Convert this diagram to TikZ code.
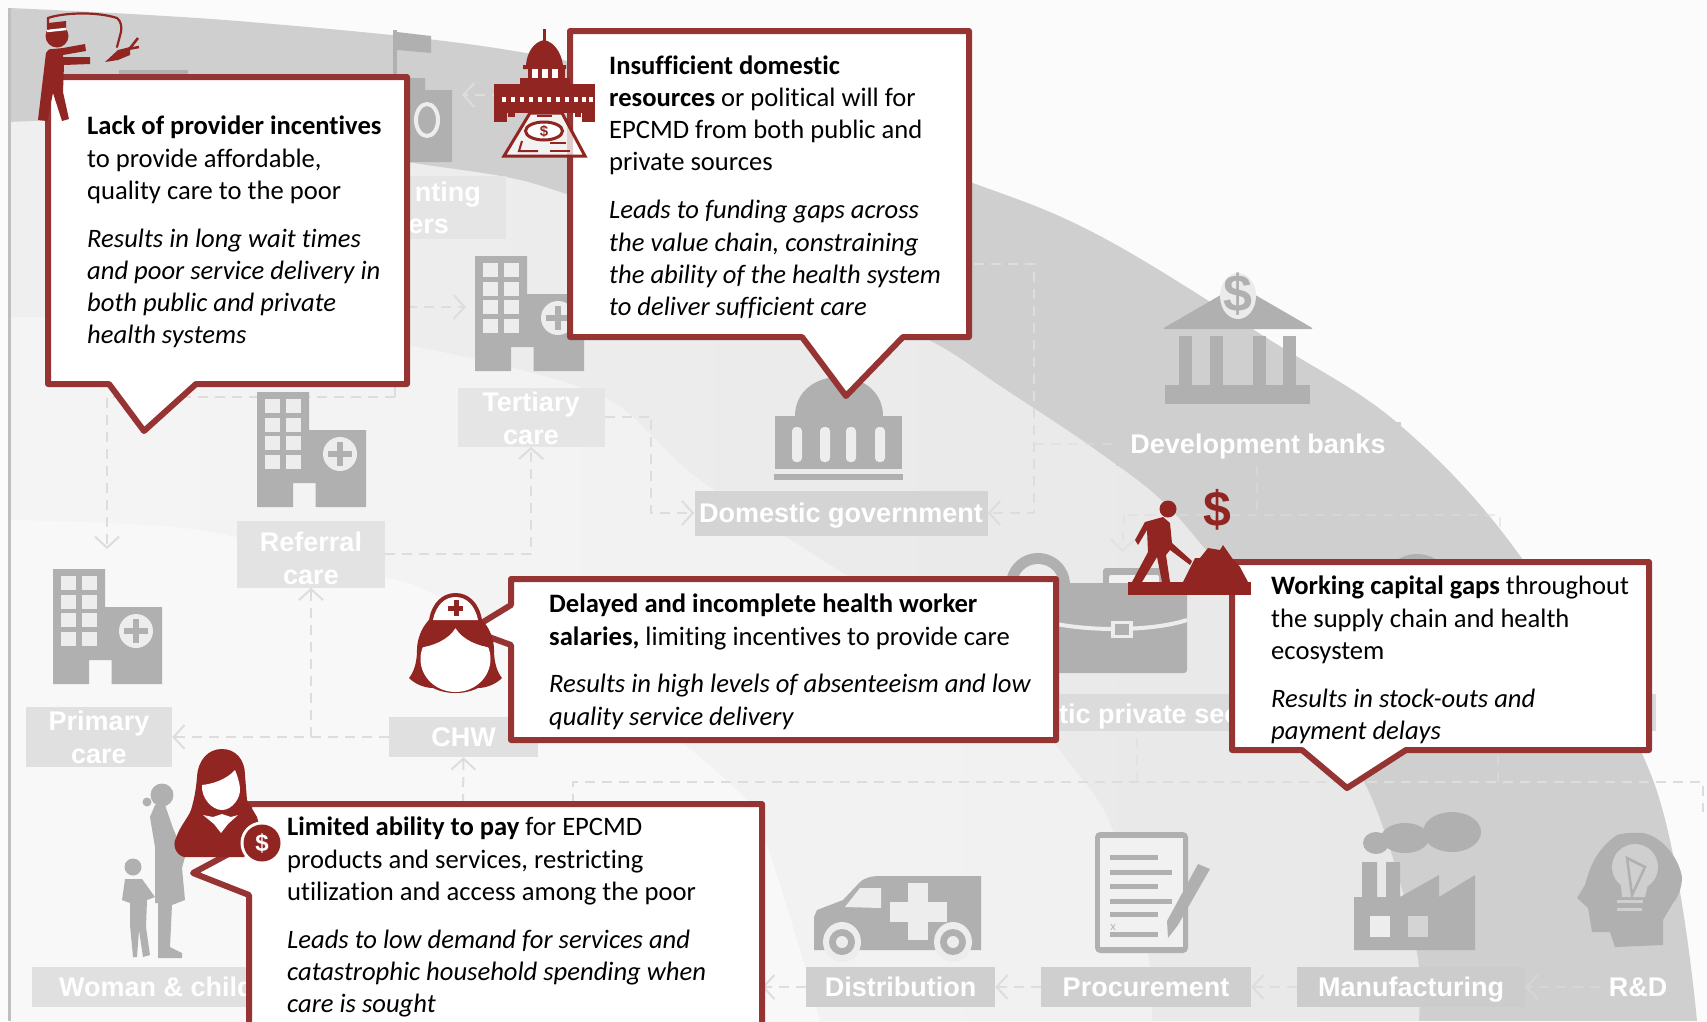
\documentclass[tikz,border=0pt]{standalone}
\usepackage{fontspec}
\setmainfont{Carlito}[Ligatures=NoCommon]
\newfontfamily\lblfont{Liberation Sans}
\usetikzlibrary{arrows.meta}
\definecolor{ringA}{HTML}{CFCFCF}
\definecolor{ringB}{HTML}{E8E8E8}
\definecolor{ringBl}{HTML}{EFEFEF}
\definecolor{ringC}{HTML}{F1F1F1}
\definecolor{ringCl}{HTML}{F4F4F4}
\definecolor{ringD}{HTML}{F8F8F8}
\definecolor{pagebg}{HTML}{FBFBFB}
\definecolor{icongray}{HTML}{B0B0B0}
\definecolor{iconlight}{HTML}{EDEDED}
\definecolor{linkgray}{HTML}{DDDDDD}
\definecolor{callred}{HTML}{963434}
\definecolor{iconred}{HTML}{912522}
\tikzset{
  lbl/.style={fill=#1,text=white,font=\lblfont\bfseries\fontsize{27}{33}\selectfont,align=center,inner sep=0pt},
  oneline/.style={text height=22pt,text depth=3pt},
  link/.style={draw=linkgray,line width=2pt,dash pattern=on 10pt off 7pt},
  faintlink/.style={link,draw opacity=0.55},
  linktip/.style={link,-{Straight Barb[length=11pt,width=24pt,line width=2pt]}},
  callout/.style={draw=callred,fill=white,line width=6pt,line join=round},
  calltext/.style={anchor=north west,inner sep=0pt,align=left,text=black,font=\fontsize{26.6}{32.2}\selectfont},
  hospital/.pic={
    \fill[icongray] (0,0) -- (52,0) -- (52,38) -- (109,38) -- (109,115) -- (58.5,115) -- (58.5,91) -- (36,91) -- (36,115) -- (0,115) -- cycle;
    \foreach \wy in {7,26,44,63}{
      \fill[iconlight] (8,\wy) rectangle (23,\wy+14);
      \fill[iconlight] (29,\wy) rectangle (44,\wy+14);
    }
    \fill[iconlight] (83,62) circle (17);
    \fill[icongray] (80,50) rectangle (86,74);
    \fill[icongray] (71,59) rectangle (95,65);
  }
}
\begin{document}
\begin{tikzpicture}[x=1pt,y=-1pt]
\useasboundingbox (0,0) rectangle (1707,1021);
\clip (0,0) rectangle (1707,1021);
% background bands
\fill[pagebg] (0,0) rectangle (1707,1021);
\fill[ringA] plot[smooth,tension=0.6] coordinates {(9,8) (250,22) (526,53) (760,112) (970,182) (1100,236) (1270,340) (1401,426) (1523,560) (1653,780) (1697,1021)} -- (1697,1021) -- (9,1021) -- cycle;
\shade[left color=ringBl,middle color=ringB,right color=ringB] plot[smooth,tension=0.5] coordinates {(9,122) (100,122) (300,142) (407,162) (506,177) (569,195) (760,262) (927,339) (1000,386) (1100,453) (1176,515) (1290,660) (1368,790) (1405,900) (1419,967) (1419,1021)} -- (9,1021) -- cycle;
\shade[left color=ringCl,middle color=ringC,right color=ringC] plot[smooth,tension=0.5] coordinates {(9,317) (200,320) (407,345) (600,395) (700,480) (900,610) (1000,680) (1067,760) (1110,823) (1147,947) (1152,1021)} -- (9,1021) -- cycle;
\fill[ringD] plot[smooth,tension=0.5] coordinates {(9,520) (200,530) (385,577) (431,593) (600,680) (740,793) (765,840) (800,950) (820,1021)} -- (9,1021) -- cycle;
\fill[pagebg] (0,0) rectangle (9,1021);
\draw[draw=black!25,line width=3pt] (9,8) -- (9,1021);

% label boxes
\node[lbl=black!12,minimum width=146pt,minimum height=60pt] (primary) at (99,737) {Primary\\care};
\node[lbl=black!11,minimum width=148pt,minimum height=67pt] (referral) at (311,554) {};
\node[lbl=black!0,fill=none] (referralt) at (311,558) {Referral\\care};
\node[lbl=black!10,minimum width=147pt,minimum height=59pt] (tertiary) at (531,417) {};
\node[lbl=black!0,fill=none] (tertiaryt) at (531,418) {Tertiary\\care};
\node[lbl=black!10,minimum width=220pt,minimum height=63pt] (implement) at (396,207) {};
\node[lbl=black!0,fill=none,oneline,anchor=east] (implementa) at (481,192) {nting};
\node[lbl=black!0,fill=none,oneline,anchor=east] (implementb) at (449,224) {ers};
\node[lbl=black!17,oneline,minimum width=293pt,minimum height=45pt] (domgov) at (841,513) {Domestic government};
\node[lbl=ringA,oneline,minimum width=285pt,minimum height=44pt] (devbank) at (1258,444) {Development banks};
\node[lbl=black!14,minimum width=636pt,minimum height=37pt] (prvbox) at (1338,712) {};
\node[lbl=black!0,fill=none,oneline,anchor=west] (private) at (969,714) {Domestic private sector};
\node[lbl=black!12,oneline,minimum width=149pt,minimum height=40pt] (chw) at (463.5,737) {CHW};
\node[lbl=black!12,minimum width=300pt,minimum height=40pt] (woman) at (182,987) {};
\node[lbl=black!0,fill=none,oneline,anchor=west] (womant) at (59,987) {Woman \& child};
\node[lbl=black!19,oneline,minimum width=189pt,minimum height=40pt] (distrib) at (900.5,987) {Distribution};
\node[lbl=black!19,oneline,minimum width=210pt,minimum height=40pt] (procure) at (1146,987) {Procurement};
\node[lbl=black!20,oneline,minimum width=228pt,minimum height=40pt] (manuf) at (1411,987) {Manufacturing};
\node[lbl=ringA,oneline,minimum width=76pt,minimum height=40pt] (rnd) at (1638,987) {R\&D};

% free ends of connectors
\coordinate (jprim) at (311,737);
\coordinate (jtop) at (395,397);
\coordinate (jtopl) at (107,397);
\coordinate (primtop) at (107,549);
\coordinate (tertarrow) at (466,307);
\coordinate (tertfrom) at (407,307);
\coordinate (impto) at (462,95);
\coordinate (impfrom) at (570,95);
\coordinate (tertr) at (651,416);
\coordinate (rightv) at (1034,513);
\coordinate (righttop) at (974,264);
\coordinate (womanend) at (463,804);
\coordinate (jrA) at (1124,515);
\coordinate (jrB) at (1500,515);
\coordinate (jrC) at (1500,527);
\coordinate (caseTop) at (1122,552);
\coordinate (jbank) at (1257,515);
\coordinate (botl) at (573,782);
\coordinate (botlb) at (573,804);
\coordinate (botr) at (1703,782);
\coordinate (botrb) at (1703,812);
\coordinate (upA) at (1137,782);
\coordinate (upB) at (1498,782);
\coordinate (wleft) at (762,987);

% connectors
\draw[linktip] (chw.west) -- (primary.east);
\draw[linktip] (jprim) -- (referral.south);
\draw[linktip] (referral.east) -| (tertiary.south);
\draw[linktip] (womanend) -- (chw.south);
\draw[linktip] (jtop) -- (jtopl) -- (primtop);
\draw[link] (jtop) -- (395,384);
\draw[linktip] (tertfrom) -- (tertarrow);
\draw[linktip] (impfrom) -- (impto);
\draw[linktip] (tertiary.east) -| (tertr) |- (domgov.west);
\draw[linktip] (righttop) -| (rightv) -- (domgov.east);
\draw[faintlink] (rightv |- devbank) -- (devbank.west);
\draw[faintlink] (devbank.south -| jbank) -- (jbank);
\draw[faintlink] (jrC) -- (jrB) -- (jrA);
\draw[linktip,draw opacity=0.55] (jrA) -- (caseTop);
\draw[link] (botlb) -- (botl) -- (botr) -- (botrb);
\draw[faintlink] (upA) -- (prvbox.south -| upA);
\draw[faintlink] (upB) -- (prvbox.south -| upB);
\draw[linktip] (distrib.west) -- (wleft);
\draw[linktip] (procure.west) -- (distrib.east);
\draw[linktip] (manuf.west) -- (procure.east);
\draw[linktip,draw opacity=0.55] (rnd.west) -- (manuf.east);

% gray icons
\pic (hospA) at (53,569) {hospital};
\pic (hospB) at (257,392) {hospital};
\pic (hospC) at (475,256) {hospital};
% strip behind first callout
\fill[icongray] (119,70) rectangle (188,80);
% flag + building
\fill[icongray] (393,30) rectangle (397,80);
\fill[icongray] (397,32) -- (431,36) -- (431,53) -- (397,50) -- cycle;
\fill[icongray] (407,78) -- (425,78) -- (425,90) -- (452,90) -- (452,162) -- (407,162) -- cycle;
\draw[draw=iconlight,line width=4pt] (427,120) ellipse (11 and 16);
% government
\fill[icongray] (795,416) .. controls (795,392) and (815,377) .. (839,377) .. controls (863,377) and (883,392) .. (883,416) -- cycle;
\fill[icongray] (775,416) rectangle (902,469);
\fill[icongray] (774,474) rectangle (903,480);
\foreach \px in {792,820,846,875}{
  \fill[iconlight,rounded corners=4pt] (\px,427) rectangle (\px+10,462);
}
% bank
\fill[icongray,rounded corners=3pt] (1162,329) -- (1238,285) -- (1314,329) -- cycle;
\foreach \px in {1179,1210,1253,1283}{
  \fill[icongray] (\px,336) rectangle (\px+13,385);
}
\fill[icongray] (1165,385) rectangle (1310,404);
\fill[black!8] (1238,296) ellipse (18 and 23);
\node[font=\lblfont\bfseries\fontsize{52}{52}\selectfont,text=icongray,inner sep=0pt] (bankdollar) at (1238,294) {\$};
% briefcase humps and body
\fill[icongray] (1038,585) circle (32);
\fill[iconlight] (1038,585) circle (21);
\fill[icongray] (1417,590) circle (36);
\fill[icongray,rounded corners=3pt] (1103,568) rectangle (1165,610);
\fill[ringC,rounded corners=2pt] (1109,575) rectangle (1159,610);
\fill[icongray,rounded corners=3pt] (1030,583) rectangle (1187,673);
\draw[draw=iconlight,line width=4pt] (1040,620) .. controls (1080,632) and (1150,632) .. (1187,620);
\fill[iconlight] (1111,621) rectangle (1133,638);
\fill[icongray] (1115,624) rectangle (1129,635);
% mother and child
\fill[icongray] (162,795) circle (11.5);
\fill[icongray] (147,802) circle (4.5);
\fill[icongray] (155,805) -- (165,805) -- (173,828) -- (185,857) -- (182,868) -- (185,900) -- (172,905) -- (170,947) -- (182,953) -- (182,958) -- (158,958) -- (158,903) -- (155,903) -- (155,847) -- (150,817) -- cycle;
\fill[icongray] (133,867) circle (8.5);
\fill[icongray] (125,879) -- (142,879) -- (155,897) -- (147,900) -- (146,927) -- (150,955) -- (143,957) -- (139,930) -- (137,957) -- (133,957) -- (130,925) -- (130,903) -- (122,900) -- cycle;
% ambulance
\fill[icongray] (814,950) -- (814,917) -- (817,910) -- (843,900) -- (860,882) .. controls (866,877) and (872,876) .. (882,876) -- (981,876) -- (981,950) -- cycle;
\fill[iconlight] (845,907) -- (860,888) -- (881,888) -- (881,908) -- cycle;
\fill[iconlight] (908,883) rectangle (928,940);
\fill[iconlight] (890,902) rectangle (947,922);
\foreach \wx in {842,953}{
  \fill[iconlight] (\wx,942) ellipse (19 and 20);
  \fill[icongray] (\wx,942) ellipse (13 and 13);
  \fill[iconlight] (\wx,942) ellipse (6 and 6);
}
% procurement sheet
\fill[icongray,rounded corners=5pt] (1095,832) rectangle (1188,953);
\fill[ringC] (1100,838) rectangle (1183,947);
\foreach \ly/\lx in {857/1158,872/1172,886/1158,901/1172,914/1158,934/1158}{
  \fill[icongray] (1110,\ly-2.5) rectangle (\lx,\ly+2.5);
}
\node[font=\lblfont\fontsize{11}{11}\selectfont,text=icongray,inner sep=0pt] (xmark) at (1113,928) {x};
\fill[icongray] (1198,864) -- (1210,869) -- (1178,925) -- (1168,938) -- (1167,921) -- cycle;
% factory
\fill[icongray] (1354,950) -- (1354,897) -- (1362,897) -- (1362,862) -- (1377,862) -- (1377,897) -- (1386,897) -- (1386,862) -- (1400,862) -- (1400,897) -- (1439,875) -- (1439,897) -- (1475,875) -- (1475,950) -- cycle;
\fill[iconlight] (1370,916) rectangle (1390,937);
\fill[black!17] (1408,916) rectangle (1428,937);
\fill[icongray] (1376,843) ellipse (13 and 11);
\fill[icongray] (1405,838) ellipse (24 and 15);
\fill[icongray] (1452,832) ellipse (29 and 20);
% head with bulb
\fill[icongray] (1577,898) -- (1585,885) .. controls (1590,865) and (1598,848) .. (1617,835) .. controls (1628,832) and (1635,833) .. (1643,833) .. controls (1660,836) and (1678,855) .. (1682,877) .. controls (1682,890) and (1676,900) .. (1673,903) -- (1663,920) -- (1663,945) -- (1615,947) -- (1610,932) -- (1592,932) -- (1588,908) -- cycle;
\fill[ringA] (1635,867) circle (23);
\fill[ringA] (1620,875) -- (1650,875) -- (1645,897) -- (1622,897) -- cycle;
\draw[draw=icongray,line width=2.5pt] (1627,858) -- (1632,895) -- (1645,867) -- cycle;
\draw[draw=ringA,line width=3pt] (1617,901) -- (1643,901);
\draw[draw=ringA,line width=3pt] (1617,909) -- (1642,909);

% callouts
\draw[callout] (48,77) -- (407,77) -- (407,384) -- (196,384) -- (144,431) -- (109,384) -- (48,384) -- cycle;
\draw[callout] (570,31) -- (969,31) -- (969,337) -- (903,337) -- (846,396) -- (802,337) -- (570,337) -- cycle;
\draw[callout] (511,579) -- (1056,579) -- (1056,740) -- (511,740) -- (511,645) -- (470,630) -- (511,605) -- cycle;
\draw[callout] (1232,562) -- (1649,562) -- (1649,750) -- (1406,750) -- (1347,788) -- (1302,750) -- (1232,750) -- cycle;
\draw[callout] (249,804) -- (762,804) -- (762,1040) -- (249,1040) -- (249,895) -- (193,873) -- (249,843) -- cycle;

% callout texts
\node[calltext] (textA) at (87,116) {\textbf{Lack of provider incentives}\\to provide affordable,\\quality care to the poor\\[15.7pt]\textit{Results in long wait times}\\\textit{and poor service delivery in}\\\textit{both public and private}\\\textit{health systems}};
\node[calltext] (textB) at (609,55.5) {\textbf{Insufficient domestic}\\\textbf{resources} or political will for\\EPCMD from both public and\\private sources\\[15.7pt]\textit{Leads to funding gaps across}\\\textit{the value chain, constraining}\\\textit{the ability of the health system}\\\textit{to deliver sufficient care}};
\node[calltext] (textC) at (549,594) {\textbf{Delayed and incomplete health worker}\\\textbf{salaries,} limiting incentives to provide care\\[15.7pt]\textit{Results in high levels of absenteeism and low}\\\textit{quality service delivery}};
\node[calltext] (textD) at (1271,576) {\textbf{Working capital gaps} throughout\\the supply chain and health\\ecosystem\\[15.7pt]\textit{Results in stock-outs and}\\\textit{payment delays}};
\node[calltext] (textE) at (287,817) {\textbf{Limited ability to pay} for EPCMD\\products and services, restricting\\utilization and access among the poor\\[15.7pt]\textit{Leads to low demand for services and}\\\textit{catastrophic household spending when}\\\textit{care is sought}};

% red icon: fisherman
\fill[iconred] (57,36) circle (11.5);
\fill[iconred] (48,23) -- (66,21) -- (66,28) -- (48,30) -- cycle;
\draw[draw=white,line width=2.5pt] (47,31) -- (66,29);
\fill[iconred] (46,53) .. controls (47,50) and (49,49) .. (53,49) -- (63,48) -- (85,44) -- (86,51) -- (63,55) -- (63,57) -- (90,57) -- (90,64) -- (64,65) -- (63,92) -- (69,119) -- (62,121) -- (53,93) -- (47,121) -- (38,120) -- cycle;
\draw[draw=iconred,line width=2.2pt,line cap=round] (48,29) -- (48,18) .. controls (62,13) and (95,11) .. (117,18) .. controls (121,21) and (122,27) .. (121,32) -- (117,47);
\fill[iconred] (105,62) -- (118,50) -- (130,47) -- (130,55) -- (118,60) -- cycle;
\draw[draw=iconred,line width=2.5pt] (127,52) -- (138,38);
\draw[draw=iconred,line width=2.5pt] (128,49) -- (139,47);

% red icon: capitol
\fill[iconred] (542.5,29) rectangle (546,42);
\fill[iconred] (526,65) .. controls (527,52) and (534,42) .. (544,40) .. controls (554,42) and (561,52) .. (563,65) -- (566,65) -- (566,69) -- (523,69) -- (523,65) -- cycle;
\fill[iconred] (528,67) rectangle (565,80);
\fill[iconred] (520,78) rectangle (570,86);
\foreach \cx in {532,542,552}{
  \fill[white] (\cx,69) rectangle (\cx+6,78);
}
\fill[iconred] (494,84) rectangle (595,113);
\foreach \dx in {502,511,520,529,538,547,556,565,574,582,589}{
  \fill[white] (\dx,97) rectangle (\dx+3.5,102);
}
\fill[iconred] (494,113) rectangle (507,122);
\fill[iconred] (582,113) rectangle (595,122);
\fill[iconred] (508,113) rectangle (515,117);
\fill[iconred] (575,113) rectangle (581,117);
\draw[draw=iconred,fill=white,fill opacity=0.75,line width=3pt] (530,113) -- (562,113) -- (585,156) -- (504,156) -- cycle;
\draw[draw=iconred,fill=white,line width=3pt] (544,131) ellipse (18.5 and 9);
\node[font=\lblfont\bfseries\fontsize{15}{15}\selectfont,text=iconred,inner sep=0pt] (capdollar) at (544,131) {\$};
\draw[draw=iconred,line width=2pt] (537,116) -- (552,116);
\draw[draw=iconred,line width=2pt] (522,141) -- (519,151) -- (538,151);
\draw[draw=iconred,line width=2pt] (550,143) -- (566,143);
\draw[draw=iconred,line width=2pt] (550,151) -- (570,151);

% red icon: nurse
\fill[iconred] (429,620) .. controls (432,602) and (443,593) .. (455.5,593) .. controls (468,593) and (479,602) .. (482,620) .. controls (490,628) and (494,640) .. (494,650) .. controls (494,662) and (497,672) .. (502,678) .. controls (495,685) and (485,688) .. (478,688) .. controls (470,692) and (462,693) .. (455.5,693) .. controls (449,693) and (441,692) .. (433,688) .. controls (426,688) and (416,685) .. (409,678) .. controls (414,672) and (417,662) .. (417,650) .. controls (417,640) and (421,628) .. (429,620) -- cycle;
\fill[white] (455.5,659) ellipse (35 and 33);
\fill[iconred] (429,620) -- (482,620) .. controls (488,628) and (492,638) .. (493,648) .. controls (478,646) and (463,640) .. (455.5,628) .. controls (448,640) and (433,646) .. (418,648) .. controls (419,638) and (423,628) .. (429,620) -- cycle;
\fill[white] (433,620) .. controls (436,605) and (445,597) .. (455.5,597) .. controls (466,597) and (475,605) .. (478,620) -- cycle;
\fill[iconred] (453.5,600) rectangle (458.5,616);
\fill[iconred] (448,605.5) rectangle (463,610.5);

% red icon: worker
\fill[iconred] (1168,509) circle (8.5);
\fill[iconred] (1145,522) -- (1163,517) -- (1170,523) -- (1172,543) -- (1192,561) -- (1190,565) -- (1170,550) -- (1166,555) -- (1170,582) -- (1162,582) -- (1157,557) -- (1142,582) -- (1132,582) -- (1148,552) -- (1147,530) -- (1138,545) -- (1135,540) -- cycle;
\fill[iconred] (1128,582) rectangle (1251,595);
\fill[iconred] (1183,582) -- (1195,558) -- (1200,558) -- (1208,548) -- (1220,550) -- (1223,545) -- (1232,558) -- (1240,567) -- (1248,582) -- cycle;
\node[font=\lblfont\bfseries\fontsize{50}{50}\selectfont,text=iconred,inner sep=0pt] (workdollar) at (1217,510) {\$};

% red icon: woman with coin
\fill[iconred] (197,777) .. controls (198,760) and (208,749) .. (222,749) .. controls (236,749) and (245,760) .. (245,775) -- (247,800) -- (257,817) -- (262,835) -- (244,857) -- (184,857) .. controls (176,855) and (172,845) .. (176,838) .. controls (180,826) and (188,818) .. (191,810) .. controls (194,800) and (196,790) .. (197,777) -- cycle;
\fill[white] (202,785) .. controls (212,784) and (226,780) .. (235,770) .. controls (237,775) and (239,780) .. (240,788) .. controls (241,798) and (232,810) .. (222,810) .. controls (212,810) and (201,798) .. (202,785) -- cycle;
\fill[white] (203,815) -- (213,817) -- (222,814) -- (231,817) -- (238,815) -- (228,824) -- (221,833) -- (214,824) -- cycle;
\fill[white] (262,843) circle (21.5);
\fill[iconred] (262,843) circle (18.5);
\node[font=\lblfont\bfseries\fontsize{24}{24}\selectfont,text=white,inner sep=0pt] (coindollar) at (262,843) {\$};
\end{tikzpicture}
\end{document}
